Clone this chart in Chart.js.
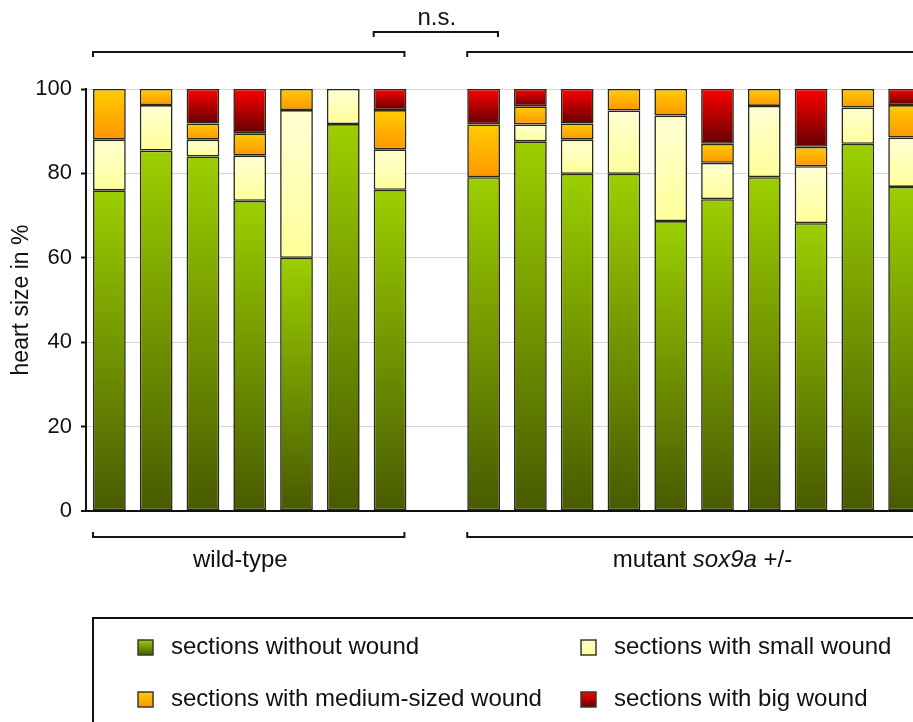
<!DOCTYPE html>
<html>
<head>
<meta charset="utf-8">
<script src="https://cdn.jsdelivr.net/npm/chart.js@4"></script>
<style>
  html, body { margin: 0; padding: 0; overflow: hidden; background: #fff; }
  #wrap { position: absolute; left: 0; top: 0; width: 938px; height: 722px; }
</style>
</head>
<body>
<div id="wrap"><canvas id="c" width="938" height="722"></canvas></div>
<script>
// Hearts: 7 wild-type, an empty slot, then 10 sox9a +/- mutants
const categories = ['WT 1','WT 2','WT 3','WT 4','WT 5','WT 6','WT 7','',
  'M 1','M 2','M 3','M 4','M 5','M 6','M 7','M 8','M 9','M 10'];

// Share of sections per wound class (%)
const withoutWound = [76, 85.4, 84, 73.5, 60, 91.7, 76.1, null,
  79.1, 87.6, 79.9, 79.9, 68.7, 73.9, 79.1, 68.2, 87, 76.8];
const smallWound = [12, 10.8, 4, 10.7, 35, 8.3, 9.6, null,
  null, 4, 8.1, 15, 25, 8.6, 16.9, 13.5, 8.6, 11.7];
const mediumWound = [12, 3.8, 3.8, 5.3, 5, null, 9.3, null,
  12.5, 4.3, 3.8, 5.1, 6.3, 4.5, 4, 4.6, 4.4, 7.7];
const bigWound = [null, null, 8.2, 10.5, null, null, 5, null,
  8.4, 4.1, 8.2, null, null, 13, null, 13.7, null, 3.8];

const yTicks = [0, 20, 40, 60, 80, 100];
const seriesLabels = ['sections without wound', 'sections with small wound',
  'sections with medium-sized wound', 'sections with big wound'];

const FONT = '"Liberation Sans", Arial, sans-serif';
const stacks = [withoutWound, smallWound, mediumWound, bigWound];
// top / bottom colour of each class gradient
const shades = [
  ['#9ccf00', '#485a00'],
  ['#ffffd4', '#ffff99'],
  ['#ffcc00', '#ff9600'],
  ['#ff0000', '#640000']
];

function segmentFill(s) {
  return function (ctx) {
    const chart = ctx.chart;
    const y = chart.scales && chart.scales.y;
    if (ctx.dataIndex === undefined || !y || !chart.chartArea) return shades[s][0];
    const j = ctx.dataIndex;
    let base = 0;
    for (let k = 0; k < s; k++) base += stacks[k][j] || 0;
    const top = base + (stacks[s][j] || 0);
    const y0 = y.getPixelForValue(top), y1 = y.getPixelForValue(base);
    if (!isFinite(y0) || !isFinite(y1) || y0 === y1) return shades[s][0];
    const g = chart.ctx.createLinearGradient(0, y0, 0, y1);
    g.addColorStop(0, shades[s][0]);
    g.addColorStop(1, shades[s][1]);
    return g;
  };
}

const annotations = {
  id: 'annotations',
  afterDraw(chart) {
    const c = chart.ctx;
    const x = chart.scales.x;
    const area = chart.chartArea;
    const slot = x.getPixelForValue(1) - x.getPixelForValue(0);
    const half = slot * 0.7 / 2;
    const left = i => x.getPixelForValue(i) - half;
    const right = i => x.getPixelForValue(i) + half;

    c.save();
    c.strokeStyle = '#151515';
    c.lineWidth = 2;
    function bracket(x0, x1, yy, dir) {
      c.beginPath();
      c.moveTo(x0, yy + dir * 5);
      c.lineTo(x0, yy);
      c.lineTo(x1, yy);
      c.lineTo(x1, yy + dir * 5);
      c.stroke();
    }
    // group brackets above and below the bars
    const topY = area.top - 37, botY = area.bottom + 26;
    bracket(left(0), right(6) - 2, topY, 1);
    bracket(left(8), chart.width + 20, topY, 1);
    bracket(left(0), right(6) - 2, botY, -1);
    bracket(left(8), chart.width + 20, botY, -1);
    // significance bracket
    const sigY = area.top - 57;
    bracket(left(6), right(8) - 2, sigY, 1);

    c.fillStyle = '#111';
    c.textBaseline = 'middle';
    c.textAlign = 'center';
    c.font = '24px ' + FONT;
    c.fillText('n.s.', (left(6) + right(8)) / 2, sigY - 14);

    // group names
    const labY = area.bottom + 49;
    c.fillText('wild-type', x.getPixelForValue(0) + slot * 2.8, labY);
    const parts = [['mutant ', ''], ['sox9a', 'italic '], [' +/-', '']];
    let total = 0;
    parts.forEach(p => { c.font = p[1] + '24px ' + FONT; total += c.measureText(p[0]).width; });
    let px = x.getPixelForValue(0) + slot * 12.68 - total / 2;
    c.textAlign = 'left';
    parts.forEach(p => {
      c.font = p[1] + '24px ' + FONT;
      c.fillText(p[0], px, labY);
      px += c.measureText(p[0]).width;
    });

    // legend box
    const lx = left(0), ly = area.bottom + 107;
    c.lineWidth = 2;
    c.strokeStyle = '#111';
    c.strokeRect(lx, ly, chart.width + 40, 200);
    const spots = [[lx + 45, ly + 22], [lx + 488, ly + 22], [lx + 45, ly + 74], [lx + 488, ly + 74]];
    c.font = '24px ' + FONT;
    spots.forEach((p, s) => {
      const g = c.createLinearGradient(0, p[1], 0, p[1] + 15);
      g.addColorStop(0, shades[s][0]);
      g.addColorStop(1, shades[s][1]);
      c.fillStyle = g;
      c.fillRect(p[0], p[1], 15, 15);
      c.lineWidth = 1.5;
      c.strokeStyle = '#3a3a2a';
      c.strokeRect(p[0], p[1], 15, 15);
      c.fillStyle = '#111';
      c.fillText(seriesLabels[s], p[0] + 33, p[1] + 7);
    });
    c.restore();
  }
};

new Chart(document.getElementById('c'), {
  type: 'bar',
  data: {
    labels: categories,
    datasets: stacks.map((d, s) => ({
      label: seriesLabels[s],
      data: d,
      backgroundColor: segmentFill(s),
      borderColor: 'rgba(30,30,12,0.95)',
      borderWidth: 1.6,
      borderSkipped: false,
      categoryPercentage: 1,
      barPercentage: 0.7
    }))
  },
  options: {
    responsive: false,
    animation: false,
    devicePixelRatio: 1,
    layout: { padding: { left: 0, top: 89, right: 10, bottom: 211 } },
    plugins: { legend: { display: false }, tooltip: { enabled: false } },
    scales: {
      x: { stacked: true, display: false },
      y: {
        stacked: true,
        min: 0,
        max: 100,
        afterBuildTicks(scale) { scale.ticks = yTicks.map(v => ({ value: v })); },
        afterFit(scale) { scale.width = 86; },
        ticks: {
          font: { family: FONT, size: 22 },
          color: '#111',
          padding: 9
        },
        grid: {
          color: ctx => ctx.tick && ctx.tick.value === 0 ? '#111' : '#d6d6d6',
          lineWidth: ctx => ctx.tick && ctx.tick.value === 0 ? 2 : 1,
          tickLength: 5,
          tickColor: '#111',
          tickWidth: 2
        },
        border: { display: true, color: '#111', width: 2 },
        title: {
          display: true,
          text: 'heart size in %',
          font: { family: FONT, size: 23 },
          color: '#111',
          padding: { top: 8, bottom: 0 }
        }
      }
    }
  },
  plugins: [annotations]
});
</script>
</body>
</html>
